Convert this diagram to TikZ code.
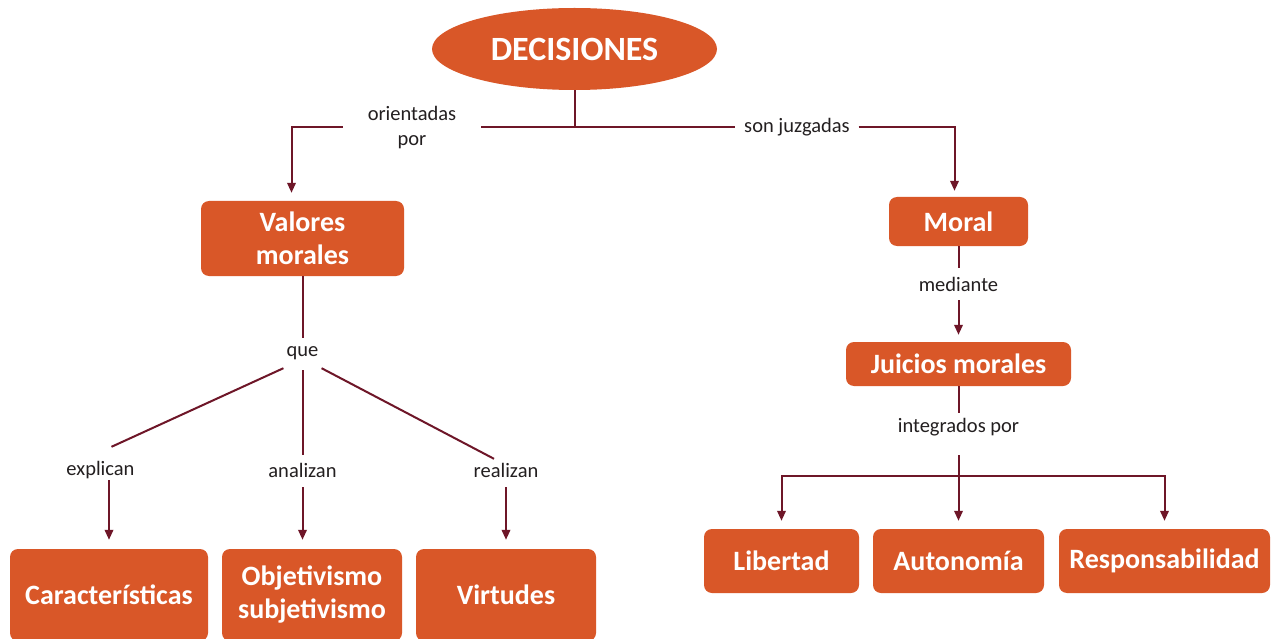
\documentclass[tikz,border=0pt]{standalone}
\usepackage{fontspec}
\setmainfont{Carlito}
\usetikzlibrary{arrows.meta,calc,shapes.geometric}
\definecolor{boxor}{RGB}{217,87,40}
\definecolor{lin}{RGB}{110,22,40}
\definecolor{txt}{RGB}{35,31,32}
\begin{document}
\begin{tikzpicture}[x=1pt,y=-1pt,
 box/.style={fill=boxor, rounded corners=8pt, text=white, font=\fontsize{28}{33}\selectfont\bfseries, align=center, inner sep=0pt},
 lbl/.style={font=\fontsize{20.5}{25}\selectfont, text=txt, inner sep=0pt, text height=14pt, text depth=4pt},
 lbltwo/.style={font=\fontsize{20.5}{25}\selectfont, text=txt, inner sep=0pt, align=center},
 conn/.style={draw=lin, line width=2pt},
 arr/.style={conn, -{Triangle[length=10pt,width=8.5pt]}},
]
\useasboundingbox (0,0) rectangle (1271,639);
\clip (0,0) rectangle (1271,639);
\fill[white] (0,0) rectangle (1271,639);

% nodes
\node[ellipse, fill=boxor, minimum width=285pt, minimum height=82pt, inner sep=0pt, text=white, font=\fontsize{34}{40}\selectfont\bfseries] (dec) at (574.5,49) {DECISIONES};
\node[lbltwo, minimum width=138pt] (orient) at (412,127.5) {orientadas\\por};
\node[lbl, minimum width=123pt] (son) at (797,127.5) {son juzgadas};
\coordinate (j1) at (574.5,127.5);

\node[box, minimum width=203pt, minimum height=75pt] (val) at (302.5,238.5) {Valores\\morales};
\node[box, minimum width=139pt, minimum height=49pt] (moral) at (958.5,221.5) {Moral};

\node[lbl] (que) at (302.5,351) {que};
\node[lbl] (expl) at (100.5,470) {explican};
\node[lbl] (anal) at (302.5,472) {analizan};
\node[lbl] (real) at (506,472) {realizan};

\node[box, minimum width=198pt, minimum height=92pt] (carac) at (109,595) {Características};
\node[box, minimum width=180pt, minimum height=92pt] (obj) at (312,595) {Objetivismo\\subjetivismo};
\node[box, minimum width=180pt, minimum height=92pt] (virt) at (506,595) {Virtudes};

\node[lbl] (medi) at (958.5,286) {mediante};
\node[box, minimum width=225pt, minimum height=44pt] (juic) at (958.5,364) {Juicios morales};
\node[lbl] (integ) at (958.5,427) {integrados por};
\coordinate (j2) at (958.5,476);

\node[box, minimum width=155pt, minimum height=64pt] (lib) at (781.5,561) {Libertad};
\node[box, minimum width=171pt, minimum height=64pt] (auton) at (958.5,561) {Autonomía};
\node[box, minimum width=211pt, minimum height=64pt] (resp) at (1164.5,561) {\raisebox{3pt}{Responsabilidad}};

% connectors top
\draw[conn] (dec.south) -- (j1);
\draw[conn] (j1) -- (orient.east |- j1);
\draw[conn] (j1) -- (son.west |- j1);
\draw[arr, shorten >=8pt] (orient.west |- j1) -| ($(val.north)+(-11,0)$);
\draw[arr, shorten >=6pt] (son.east |- j1) -| ($(moral.north)+(-4,0)$);

% left branch
\draw[conn, shorten >=4pt] (val.south) -- (que.north);
\draw[conn] ($(que.south west)+(-3,8)$) -- ($(expl.north)+(11,-14)$);
\draw[conn, shorten <=10pt, shorten >=8pt] (que.south) -- (anal.north);
\draw[conn] ($(que.south east)+(3,8)$) -- ($(real.north)+(-12,-4)$);
\draw[arr, shorten <=1pt, shorten >=9pt] (carac.north |- expl.south) -- (carac.north);
\draw[arr, shorten <=6pt, shorten >=9pt] (anal.south) -- (anal.south |- obj.north);
\draw[arr, shorten <=6pt, shorten >=9pt] (real.south) -- (virt.north);

% right branch
\draw[conn, shorten >=9pt] (moral.south) -- (medi.north);
\draw[arr, shorten <=5pt, shorten >=7pt] (medi.south) -- (juic.north);
\draw[conn, shorten >=5pt] (juic.south) -- (integ.north);
\draw[conn, shorten <=19pt] (integ.south) -- (j2);
\draw[arr, shorten >=8pt] (j2) -- (auton.north);
\draw[arr, shorten >=8pt] (j2) -| (lib.north);
\draw[arr, shorten >=8pt] (j2) -| (resp.north);
\end{tikzpicture}
\end{document}
